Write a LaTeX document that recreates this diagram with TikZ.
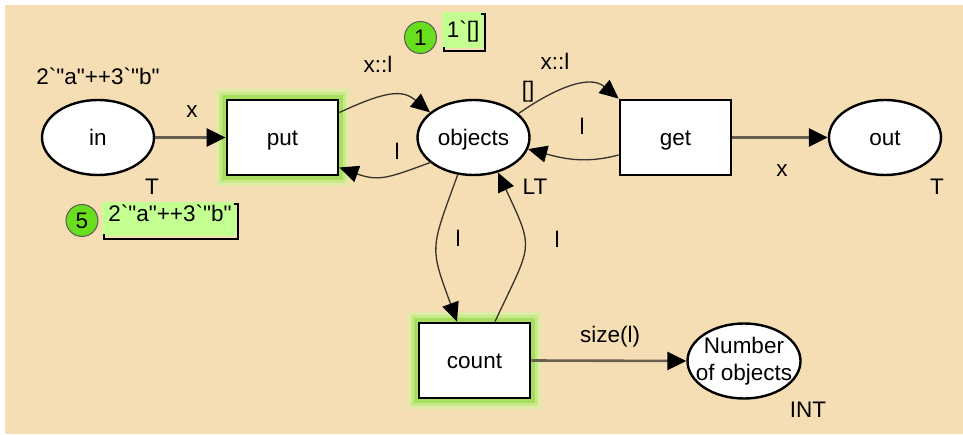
\documentclass[tikz,border=0pt]{standalone}
\usepackage{fontspec}
\setmainfont{Liberation Sans}[Ligatures=TeXOff]
\usetikzlibrary{arrows.meta,shapes.geometric,backgrounds,calc}
\definecolor{bg}{RGB}{245,222,179}
\definecolor{glowA}{RGB}{222,236,168}
\definecolor{glowB}{RGB}{200,232,138}
\definecolor{glowC}{RGB}{168,222,95}
\definecolor{tokgreen}{RGB}{104,222,30}
\definecolor{tokbox}{RGB}{196,255,146}
\definecolor{arcline}{RGB}{55,50,45}
\definecolor{strline}{RGB}{105,95,80}
\begin{document}
\begin{tikzpicture}[x=1pt,y=1pt,
  every node/.style={font=\fontsize{22.5}{26}\selectfont},
  place/.style={ellipse,draw=black,line width=2.4pt,fill=white,minimum width=112pt,minimum height=75pt,inner sep=0pt,text height=16pt,text depth=0pt},
  trans/.style={rectangle,draw=black,line width=2.8pt,fill=white,minimum width=111pt,minimum height=75pt,inner sep=0pt,text height=16pt,text depth=0pt},
  arc/.style={draw=arcline,line width=1.3pt,-{Triangle[length=19pt,width=17pt,color=black]}},
  sarc/.style={draw=strline,line width=2.6pt,-{Triangle[length=19pt,width=18pt,color=black]}},
  lbl/.style={inner sep=0pt,anchor=base},
  token/.style={circle,fill=tokgreen,draw=black!65,line width=1pt,minimum size=32pt,inner sep=0pt},
  tokbracket/.style={draw=black,line width=1.3pt},
]
\useasboundingbox (0,0) rectangle (963,-435);

% nodes
\node[place] (in) at (98,-137.5) {in};
\node[trans] (put) at (282.5,-137.5) {put};
\node[place] (obj) at (473.5,-137.5) {objects};
\node[trans] (get) at (675.5,-137.5) {get};
\node[place] (out) at (885,-137.5) {out};
\node[trans] (count) at (474.5,-360.5) {count};
\node[ellipse,draw=black,line width=2.4pt,fill=white,minimum width=113pt,minimum height=75pt,inner sep=0pt,align=center,font=\fontsize{22.5}{27}\selectfont] (num) at (744,-361) {\makebox[0pt]{Number}\\\makebox[0pt]{of objects}};

\begin{scope}[on background layer]
  \fill[white] (0,0) rectangle (963,-435);
  \fill[bg] (5,-5) rectangle (963,-434);
  \foreach \t in {put,count}{
    \fill[glowA] ($(\t.north west)+(-10,10)$) rectangle ($(\t.south east)+(10,-10)$);
    \fill[glowB] ($(\t.north west)+(-7,7)$) rectangle ($(\t.south east)+(7,-7)$);
    \fill[glowC] ($(\t.north west)+(-4,4)$) rectangle ($(\t.south east)+(4,-4)$);
  }
\end{scope}

% arcs
\draw[sarc] (in.east) -- (put.west);
\draw[arc] ([yshift=25pt]put.east) to[out=25,in=140,out looseness=1.5,in looseness=1.0] (obj.150);
\draw[arc] (obj.210) to[out=200,in=-20,looseness=1.2] ([yshift=-30pt]put.east);
\draw[arc] (obj.28) to[out=35,in=140] (get.north west);
\draw[arc] ([yshift=-17.5pt]get.west) to[out=195,in=-15] (obj.-12);
\draw[sarc] (get.east) -- (out.west);
\draw[arc] (obj.247) to[out=250,in=110,looseness=1.4] ([xshift=-17.5pt]count.north);
\draw[arc] ([xshift=20.5pt]count.north) to[out=65,in=-65,looseness=1.5] (obj.-55);
\draw[sarc] (count.east) -- (num.west);

% labels
\node[lbl] (l1) at (98,-85) {2`"a"++3`"b"};
\node[lbl] (l2) at (192,-118) {x};
\node[lbl] (l3) at (152,-195) {T};
\node[lbl] (l4) at (378,-73) {x::l};
\node[lbl] (l5) at (397,-160) {l};
\node[lbl] (l6) at (555,-70) {x::l};
\node[lbl] (l7) at (528,-97.5) {[]};
\node[lbl] (l8) at (582,-135) {l};
\node[lbl] (l9) at (782,-177) {x};
\node[lbl] (l10) at (937,-195) {T};
\node[lbl] (l11) at (535,-195) {LT};
\node[lbl] (l12) at (458,-247) {l};
\node[lbl] (l13) at (557,-248) {l};
\node[lbl] (l14) at (610,-342) {size(l)};
\node[lbl] (l15) at (808,-417) {INT};

% token 1
\node[token] (t1) at (420.5,-37.5) {1};
\fill[tokbox] (442,-12) rectangle (483,-48);
\draw[tokbracket] (444,-47) -- (444,-51) -- (485,-51) -- (485,-14) -- (481,-14);
\node[lbl] (tt1) at (463,-38) {1`[]};

% token 5
\node[token] (t5) at (82,-220.5) {5};
\fill[tokbox] (102,-202) rectangle (236,-236);
\draw[tokbracket] (104,-234) -- (104,-239) -- (238,-239) -- (238,-204) -- (234,-204);
\node[lbl] (tt5) at (170,-222) {2`"a"++3`"b"};
\end{tikzpicture}
\end{document}
